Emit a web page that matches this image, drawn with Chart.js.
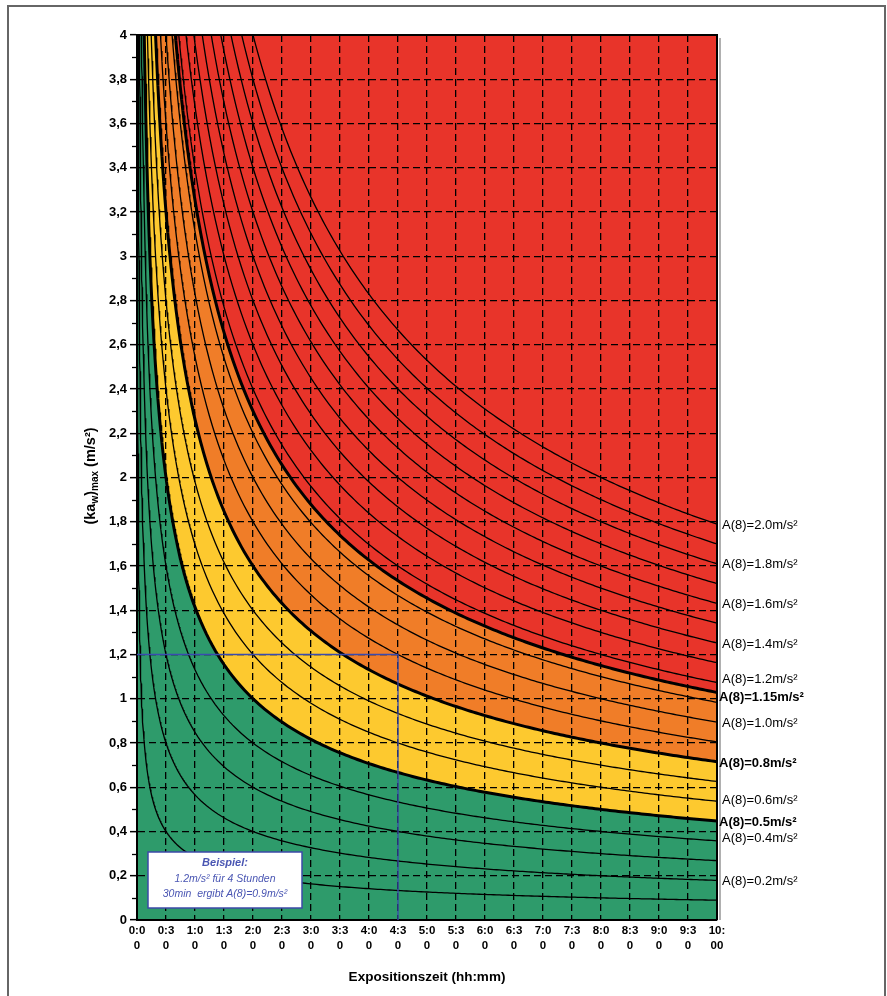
<!DOCTYPE html>
<html><head><meta charset="utf-8">
<script src="https://cdn.jsdelivr.net/npm/chart.js@4/dist/chart.umd.min.js"></script>
<style>html,body{margin:0;padding:0;background:#fff}canvas{display:block;background:#fff}</style>
</head><body>
<canvas id="c" width="887" height="996"></canvas>
<script>
// A(8) levels drawn as curves (m/s²)
const curveLevels = [0.1,0.2,0.3,0.4,0.5,0.6,0.7,0.8,0.9,1.0,1.1,1.15,1.2,1.3,1.4,1.5,1.6,1.7,1.8,1.9,2.0];
const boldLevels = [0.5, 0.8, 1.15];
const labelLevels = [2.0,1.8,1.6,1.4,1.2,1.15,1.0,0.8,0.6,0.5,0.4,0.2];
// zone limits: green < 0.5 < yellow < 0.8 < orange < 1.15 < red
const zoneLimits = [0.5, 0.8, 1.15];
const zoneColors = ['#2e9b6b', '#fdc92f', '#f07d28', '#e8342a'];
const referenceHours = 8;
const exampleTime = 4.5;   // 4h30
const exampleAccel = 1.2;  // m/s²
const xMax = 10, yMax = 4;

// sampling grid of exposure times (hours)
const times = [];
for (let t = 0.002; t < 0.1; t += 0.002) times.push(+t.toFixed(4));
for (let t = 0.1; t < 1; t += 0.01) times.push(+t.toFixed(4));
for (let t = 1; t <= 10.0001; t += 0.05) times.push(+t.toFixed(4));

// (ka_w)max for a given A(8) and exposure time: A(8) = a * sqrt(T / 8)
const curve = A => times.map(t => ({x: t, y: A * Math.sqrt(referenceHours / t)}));

const datasets = [];
// example lines (index 0)
datasets.push({data: [{x: 0, y: exampleAccel}, {x: exampleTime, y: exampleAccel}, {x: exampleTime, y: 0}],
  borderColor: '#3a4bb0', borderWidth: 1.3, pointRadius: 0, fill: false, order: 0});
// fill zones (indices 1..4)
datasets.push({data: curve(zoneLimits[0]), borderWidth: 0, pointRadius: 0, fill: 'origin', backgroundColor: zoneColors[0], order: 10});
datasets.push({data: curve(zoneLimits[1]), borderWidth: 0, pointRadius: 0, fill: '-1', backgroundColor: zoneColors[1], order: 10});
datasets.push({data: curve(zoneLimits[2]), borderWidth: 0, pointRadius: 0, fill: '-1', backgroundColor: zoneColors[2], order: 10});
datasets.push({data: curve(zoneLimits[2]), borderWidth: 0, pointRadius: 0, fill: 'end', backgroundColor: zoneColors[3], order: 10});
// curves
curveLevels.forEach(A => {
  datasets.push({data: curve(A), borderColor: '#000', borderWidth: boldLevels.includes(A) ? 3 : 1.3,
    pointRadius: 0, fill: false, tension: 0, order: 1});
});

const fmtY = v => String(Math.round(v * 10) / 10).replace('.', ',');
const fmtX = v => {
  const h = Math.floor(v + 1e-9), m = Math.round((v - h) * 60);
  const s = h + ':' + (m < 10 ? '0' + m : m);
  return [s.slice(0, 3), s.slice(3)];
};

const decor = {
  id: 'decor',
  afterDraw(chart) {
    const {ctx, chartArea: a, scales: {x, y}} = chart;
    ctx.save();
    // top & right frame of plot
    ctx.strokeStyle = '#000'; ctx.lineWidth = 2; ctx.setLineDash([]);
    ctx.beginPath(); ctx.moveTo(a.left, a.top); ctx.lineTo(a.right, a.top); ctx.lineTo(a.right, a.bottom); ctx.stroke();
    ctx.strokeStyle = '#b0b0b0'; ctx.lineWidth = 2;
    ctx.beginPath(); ctx.moveTo(a.right + 3, a.top + 3); ctx.lineTo(a.right + 3, a.bottom); ctx.stroke();
    // minor y ticks
    ctx.strokeStyle = '#000'; ctx.lineWidth = 1.3;
    for (let v = 0.1; v < yMax; v += 0.2) {
      const py = Math.round(y.getPixelForValue(v)) + 0.5;
      ctx.beginPath(); ctx.moveTo(a.left - 5, py); ctx.lineTo(a.left, py); ctx.stroke();
    }
    // right labels
    ctx.fillStyle = '#000'; ctx.textBaseline = 'middle'; ctx.textAlign = 'left';
    const nudge = {1.2: -3, 1.15: 5, 0.8: 2, 0.4: -2, 0.6: -1};
    labelLevels.forEach(A => {
      const endY = A * Math.sqrt(referenceHours / xMax);
      const py = y.getPixelForValue(endY) + (nudge[A] || 1);
      const bold = boldLevels.includes(A);
      ctx.font = (bold ? 'bold ' : '') + '13px "Liberation Sans", Arial, sans-serif';
      const txt = 'A(8)=' + (A === 1.15 ? '1.15' : A.toFixed(1)) + 'm/s²';
      ctx.fillText(txt, a.right + (bold ? 2 : 5), py);
    });
    // example box
    const bx = a.left + 11, by = a.bottom - 68, bw = 154, bh = 56;
    ctx.fillStyle = '#fff'; ctx.fillRect(bx, by, bw, bh);
    ctx.strokeStyle = '#3d4aa8'; ctx.lineWidth = 1.5; ctx.strokeRect(bx, by, bw, bh);
    ctx.fillStyle = '#4a56b3'; ctx.textAlign = 'center';
    ctx.font = 'italic bold 11px "Liberation Sans", Arial, sans-serif';
    ctx.fillText('Beispiel:', bx + bw / 2, by + 11);
    ctx.font = 'italic 10.5px "Liberation Sans", Arial, sans-serif';
    ctx.fillText('1.2m/s² für 4 Stunden', bx + bw / 2, by + 27);
    ctx.fillText('30min  ergibt A(8)=0.9m/s²', bx + bw / 2, by + 42);
    // x title
    ctx.fillStyle = '#000';
    ctx.font = 'bold 13.5px "Liberation Sans", Arial, sans-serif';
    ctx.fillText('Expositionszeit (hh:mm)', 427, 977);
    // y title with subscripts
    ctx.translate(91, 476); ctx.rotate(-Math.PI / 2);
    const runs = [['(ka', 0], ['w', 1], [')', 0], ['max', 1], [' (m/s²)', 0]];
    const fMain = 'bold 14.5px "Liberation Sans", Arial, sans-serif', fSub = 'bold 10px "Liberation Sans", Arial, sans-serif';
    let total = 0;
    runs.forEach(([t, s]) => { ctx.font = s ? fSub : fMain; total += ctx.measureText(t).width; });
    let cx = -total / 2; ctx.textAlign = 'left';
    runs.forEach(([t, s]) => { ctx.font = s ? fSub : fMain; ctx.fillText(t, cx, s ? 4 : 0); cx += ctx.measureText(t).width; });
    ctx.restore();
    // page frame
    ctx.save(); ctx.strokeStyle = '#666'; ctx.lineWidth = 2;
    ctx.strokeRect(8, 6, 877, 1010); ctx.restore();
  }
};

new Chart(document.getElementById('c'), {
  type: 'line',
  data: {datasets},
  options: {
    responsive: false, animation: false, devicePixelRatio: 1,
    layout: {padding: {left: 0, right: 170, top: 35, bottom: 0}},
    plugins: {legend: {display: false}, tooltip: {enabled: false}, filler: {drawTime: 'beforeDraw'}},
    scales: {
      x: {type: 'linear', min: 0, max: xMax,
        afterFit: s => { s.height = 76; },
        ticks: {stepSize: 0.5, autoSkip: false, maxRotation: 0, padding: 3, color: '#000',
          font: {family: '"Liberation Sans", Arial, sans-serif', size: 11.5, weight: 'bold', lineHeight: 1.3},
          callback: v => fmtX(v)},
        grid: {color: '#000', lineWidth: 1.3, drawTicks: false},
        border: {display: true, color: '#000', width: 2, dash: [7, 4]}
      },
      y: {type: 'linear', min: 0, max: yMax,
        afterFit: s => { s.width = 137; },
        ticks: {stepSize: 0.2, padding: 3, color: '#000',
          font: {family: '"Liberation Sans", Arial, sans-serif', size: 13, weight: 'bold'},
          callback: v => fmtY(v)},
        grid: {color: '#000', lineWidth: 1.3, tickLength: 7, tickColor: '#000', tickWidth: 1.5},
        border: {display: true, color: '#000', width: 2, dash: [7, 4]}
      }
    }
  },
  plugins: [decor]
});
</script>
</body></html>
